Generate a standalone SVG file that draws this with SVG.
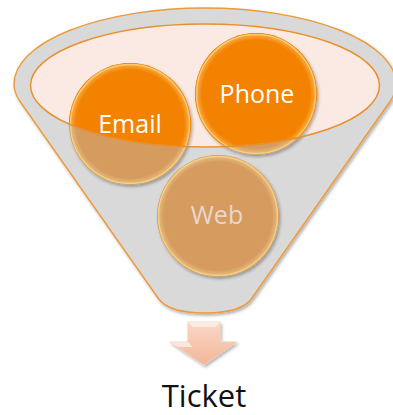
<svg xmlns="http://www.w3.org/2000/svg" width="393" height="415" viewBox="0 0 393 415">
<defs>
<style>
.lbl{font-family:"Open Sans","Noto Sans","Liberation Sans",sans-serif;font-size:25px;text-anchor:middle}
.wt{fill:#ffffff}
.tan{fill:#D59B5E}
.org{fill:#F38200}
.bevel{fill:none;stroke:#FBD88A;stroke-width:1.4;stroke-opacity:0.7}
</style>
<filter id="sh" x="-10%" y="-10%" width="125%" height="125%">
<feDropShadow dx="1.5" dy="2" stdDeviation="1.5" flood-color="#000" flood-opacity="0.3"/>
</filter>
<clipPath id="mouth"><ellipse cx="205" cy="85.5" rx="174.5" ry="61.5"/></clipPath>
<linearGradient id="ag" x1="0" y1="0" x2="0" y2="1">
<stop offset="0" stop-color="#FBD9C8"/>
<stop offset="1" stop-color="#F3B598"/>
</linearGradient>
<radialGradient id="hl" cx="0.5" cy="0.5" r="0.5">
<stop offset="0.9" stop-color="#FFE9A8" stop-opacity="0"/>
<stop offset="1" stop-color="#FFE9A8" stop-opacity="0.45"/>
</radialGradient>
</defs>

<g id="funnel">
<path d="M14,84 A191,76 0 0 1 396,84 Q396,92 391,100 L252,298 Q242,313 205,313 Q168,313 158,298 L19,100 Q14,92 14,84 Z" fill="#D9D9D9" stroke="#EE9A3A" stroke-width="1.4" filter="url(#sh)"/>
<ellipse cx="205" cy="85.5" rx="174.5" ry="61.5" fill="#FAEAE3"/>
</g>

<g id="node-email">
<circle cx="130" cy="124" r="61" class="tan" filter="url(#sh)"/>
<circle cx="130" cy="124" r="61" class="org" clip-path="url(#mouth)"/>
<circle cx="130" cy="124" r="60" fill="url(#hl)"/>
<circle cx="130" cy="124" r="59.5" class="bevel"/>
</g>
<g id="node-phone">
<circle cx="256" cy="94" r="61" class="tan" filter="url(#sh)"/>
<circle cx="256" cy="94" r="61" class="org" clip-path="url(#mouth)"/>
<circle cx="256" cy="94" r="60" fill="url(#hl)"/>
<circle cx="256" cy="94" r="59.5" class="bevel"/>
</g>
<g id="node-web">
<circle cx="218" cy="216" r="61" class="tan" filter="url(#sh)"/>
<circle cx="218" cy="216" r="60" fill="url(#hl)"/>
<circle cx="218" cy="216" r="59.5" class="bevel"/>
</g>

<ellipse id="mouth-rim" cx="205" cy="85.5" rx="174.5" ry="61.5" fill="none" stroke="#E8902E" stroke-width="1.5"/>

<g id="labels">
<text x="130" y="133" class="lbl wt">Email</text>
<text x="257" y="103" class="lbl wt">Phone</text>
<text x="217" y="224" class="lbl" fill="#E9D7CE">Web</text>
</g>

<g id="connectors">
<path d="M188,322 L220,322 L220,342 L237,342 L204,365 L170,342 L188,342 Z" fill="url(#ag)" stroke="#F6C9B4" stroke-width="0.8" filter="url(#sh)"/>
<path d="M188,322 L220,322 L215,327 L193,327 Z" fill="#FDEBE1"/>
<path d="M170,342 L188,342 L193,347 L178,347 Z" fill="#FDE6D9"/>
</g>

<g id="node-ticket">
<text x="204" y="407" font-family="Open Sans, Noto Sans, Liberation Sans, sans-serif" font-size="31" text-anchor="middle" fill="#111111">Ticket</text>
</g>
</svg>
